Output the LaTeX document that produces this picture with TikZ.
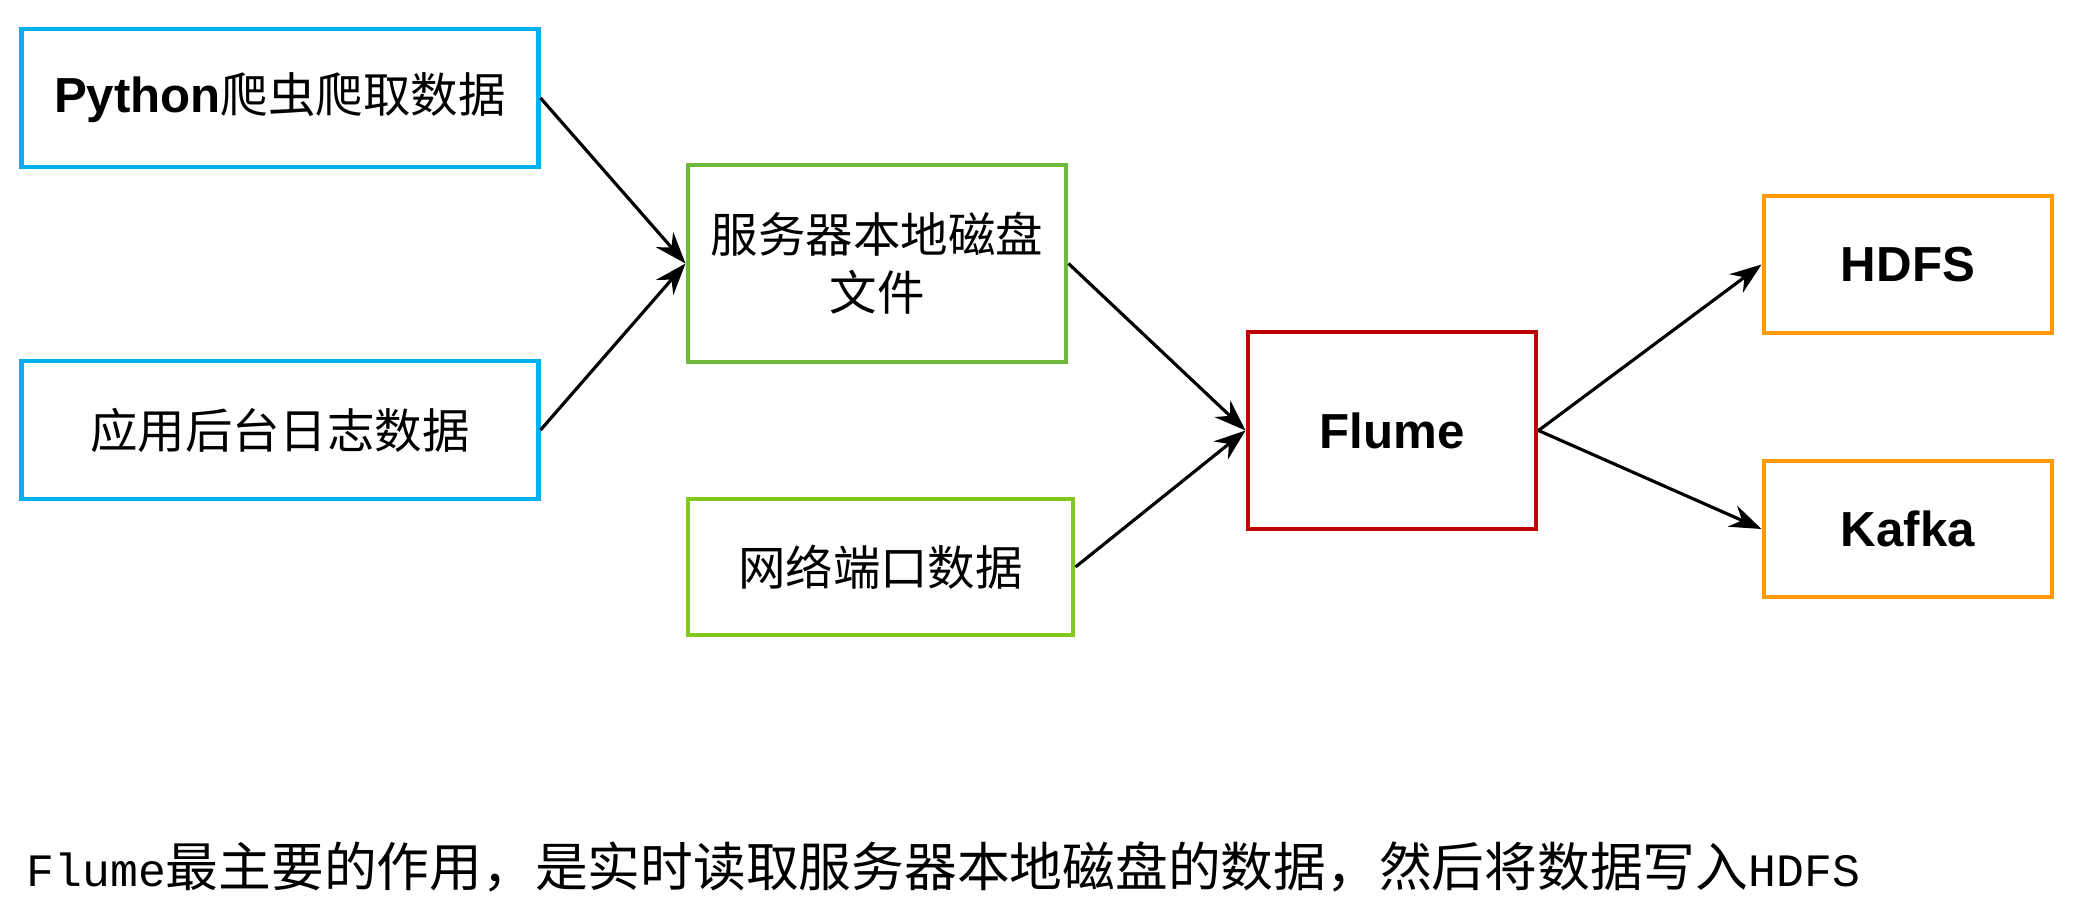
\documentclass[tikz,border=0pt]{standalone}
\usepackage{fontspec}
\setsansfont{Liberation Sans}
\newfontfamily\cjk{Noto Sans CJK SC}
\newfontfamily\cjkmono{Liberation Mono}
\definecolor{srcblue}{RGB}{0,176,240}
\definecolor{diskgreen}{RGB}{112,184,60}
\definecolor{netgreen}{RGB}{130,201,30}
\definecolor{flumered}{RGB}{192,0,0}
\definecolor{sinkorange}{RGB}{255,154,0}
\usetikzlibrary{arrows.meta,positioning}

\begin{document}
\begin{tikzpicture}[x=0.01cm,y=-0.01cm,
  box/.style={draw,line width=1.35pt,inner sep=0,align=center,
    font=\fontsize{13.5}{16.5}\selectfont\cjk},
  latin/.style={font=\fontsize{14}{16}\selectfont\sffamily\bfseries},
  flow/.style={-{Stealth[length=9pt,width=6.5pt]},line width=0.9pt}]
  \useasboundingbox (0,0) rectangle (2074,923);
  % sources
  \node[box,draw=srcblue,minimum width=5.16cm,minimum height=1.38cm] (py) at (280,98)
    {{\fontsize{14}{16}\selectfont\sffamily\bfseries Python}爬虫爬取数据};
  \node[box,draw=srcblue,minimum width=5.16cm,minimum height=1.38cm] (app) at (280,430) {应用后台日志数据};
  % collected data
  \node[box,draw=diskgreen,minimum width=3.78cm,minimum height=1.97cm] (disk) at (877,263.5) {服务器本地磁盘\\文件};
  \node[box,draw=netgreen,minimum width=3.85cm,minimum height=1.36cm] (net) at (880.5,567) {网络端口数据};
  % flume and sinks
  \node[box,latin,draw=flumered,minimum width=2.88cm,minimum height=1.97cm] (flume) at (1392,430.5) {Flume};
  \node[box,latin,draw=sinkorange,minimum width=2.88cm,minimum height=1.37cm] (hdfs) at (1908,264.5) {HDFS};
  \node[box,latin,draw=sinkorange,minimum width=2.88cm,minimum height=1.36cm] (kafka) at (1908,529) {Kafka};
  \draw[flow] (py.east) -- (disk.west);
  \draw[flow] (app.east) -- (disk.west);
  \draw[flow] (disk.east) -- (flume.west);
  \draw[flow] (net.east) -- (flume.west);
  \draw[flow] (flume.east) -- (hdfs.west);
  \draw[flow] (flume.east) -- (kafka.west);
  % caption
  \node[anchor=base west,inner sep=0,font=\fontsize{15}{18}\selectfont\cjk] (note) at (26,886)
    {{\fontsize{13.2}{18}\selectfont\cjkmono Flume}最主要的作用，是实时读取服务器本地磁盘的数据，然后将数据写入{\fontsize{13.2}{18}\selectfont\cjkmono HDFS}};
\end{tikzpicture}
\end{document}
